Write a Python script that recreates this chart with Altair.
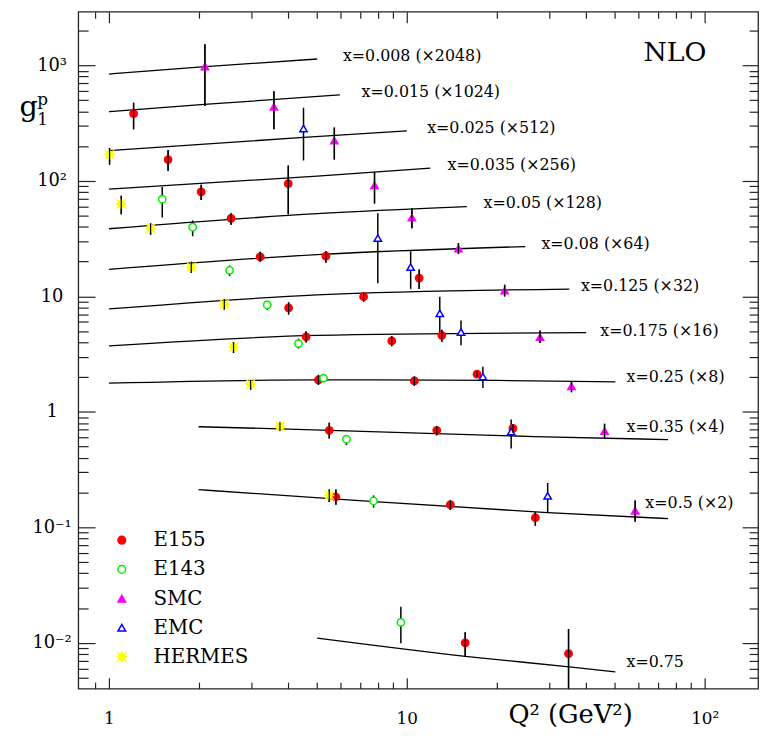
import altair as alt
import pandas as pd

# ---------------- data ----------------
bin_labels = ["x=0.008 (×2048)", "x=0.015 (×1024)", "x=0.025 (×512)", "x=0.035 (×256)",
              "x=0.05 (×128)", "x=0.08 (×64)", "x=0.125 (×32)", "x=0.175 (×16)",
              "x=0.25 (×8)", "x=0.35 (×4)", "x=0.5 (×2)", "x=0.75"]

curve_q = [[1, 2.0, 5.0],
           [1, 2.09, 5.96],
           [1, 4.5, 10.0],
           [1, 5.0, 12.0],
           [1, 5.0, 15.9],
           [1, 5.0, 25.0],
           [1, 5.0, 35.1],
           [1, 5.0, 40.0],
           [1, 5.0, 20.0, 50.1],
           [2.0, 4.28, 26.8, 75.3],
           [2.0, 5.52, 29.7, 75.3],
           [5.0, 15.7, 35.1, 50.1]]
curve_g = [[841, 968, 1136],
           [397, 459, 555],
           [183, 238, 271],
           [84.7, 110, 129],
           [38.5, 52.0, 59.8],
           [17.1, 23.0, 27.0],
           [7.78, 10.3, 11.55],
           [3.72, 4.59, 4.85],
           [1.77, 1.89, 1.87, 1.82],
           [0.743, 0.705, 0.611, 0.575],
           [0.212, 0.177, 0.134, 0.119],
           [0.01097, 0.00764, 0.00619, 0.00561]]

label_q = [6.1, 7.05, 11.7, 13.7, 18.1, 28.3, 38.4, 44.6, 54.6, 54.6, 63.2, 54.6]
label_g = [1216, 586, 284, 136, 63.8, 28.6, 12.3, 4.97, 2.02, 0.738, 0.161, 0.00684]

experiments = ["E155", "E143", "SMC", "EMC", "HERMES"]

e155_q = [1.21, 1.58, 2.04, 4.0, 2.57, 3.22, 5.35, 11.0, 4.01, 7.16, 4.59, 8.90, 13.1,
          5.05, 10.6, 17.2, 5.49, 12.6, 22.7, 5.78, 14.0, 27.0, 15.7, 34.9]
e155_g = [382, 153, 80.4, 94.7, 47.4, 22.0, 22.3, 14.4, 7.94, 9.93, 4.45, 4.11, 4.60,
          1.89, 1.85, 2.12, 0.692, 0.692, 0.719, 0.183, 0.157, 0.121, 0.0100, 0.00805]
e155_lo = [280, 122, 68.2, 51.3, 41.7, 19.9, 19.5, 11.6, 6.96, 8.99, 3.98, 3.70, 4.03,
           1.71, 1.68, 2.00, 0.587, 0.626, 0.66, 0.157, 0.141, 0.103, 0.00764, 0.0035]
e155_hi = [474, 185, 92.7, 136, 52.4, 24.3, 24.6, 17.1, 8.87, 10.8, 4.97, 4.51, 5.14,
           2.09, 2.02, 2.25, 0.805, 0.748, 0.78, 0.213, 0.171, 0.136, 0.01236, 0.01318]

e143_q = [1.51, 1.91, 2.54, 3.40, 4.33, 5.25, 6.27, 7.73, 9.55]
e143_g = [69.5, 39.7, 16.8, 8.42, 3.90, 1.96, 0.579, 0.169, 0.01504]
e143_lo = [48.1, 33.1, 15.0, 7.63, 3.53, 1.86, 0.515, 0.148, 0.00993]
e143_hi = [88.7, 45.3, 18.5, 9.17, 4.31, 2.06, 0.626, 0.189, 0.0205]

smc_q = [2.10, 3.58, 5.71, 7.79, 10.4, 14.9, 21.3, 28.0, 35.7, 46.1, 58.4]
smc_g = [979, 438, 223, 91.7, 48.1, 25.9, 11.2, 4.44, 1.66, 0.682, 0.139]
smc_lo = [444, 280, 153, 63.8, 38.9, 23.3, 9.98, 3.95, 1.48, 0.587, 0.112]
smc_hi = [1528, 598, 290, 119, 57.8, 29.0, 12.6, 5.07, 1.83, 0.789, 0.171]

emc_q = [4.50, 7.99, 10.3, 12.9, 15.2, 18.0, 22.4, 29.7]
emc_g = [284, 32.0, 17.9, 7.14, 4.91, 2.02, 0.674, 0.187]
emc_lo = [150, 13.0, 11.6, 4.81, 3.77, 1.61, 0.482, 0.134]
emc_hi = [430, 52.4, 24.6, 9.93, 6.18, 2.46, 0.859, 0.242]

hermes_q = [1.005, 1.10, 1.38, 1.89, 2.44, 2.62, 2.99, 3.75, 5.49]
hermes_g = [169, 63.0, 38.9, 17.9, 8.59, 3.65, 1.74, 0.753, 0.189]
hermes_lo = [138, 51.3, 34.2, 16.0, 7.68, 3.24, 1.55, 0.682, 0.166]
hermes_hi = [193, 74.3, 43.0, 19.9, 9.48, 4.03, 1.89, 0.814, 0.213]

x_tick_values = [1, 10, 100]
x_tick_labels = ["1", "10", "10²"]
x_minor_values = [0.9, 2, 3, 4, 5, 6, 7, 8, 9, 20, 30, 40, 50, 60, 70, 80, 90]
y_tick_values = [0.01, 0.1, 1, 10, 100, 1000]
y_tick_labels = ["10⁻²", "10⁻¹", "1", "10", "10²", "10³"]
y_minor_values = [m * d for d in [0.001, 0.01, 0.1, 1, 10, 100, 1000]
                  for m in [2, 3, 4, 5, 6, 7, 8, 9]]

# ---------------- tables ----------------
curve_rows = []
for lab, qs, gs in zip(bin_labels, curve_q, curve_g):
    for q, g in zip(qs, gs):
        curve_rows.append({"bin": lab, "q": q, "g": g})
curves_df = pd.DataFrame(curve_rows)

labels_df = pd.DataFrame({"label": bin_labels, "q": label_q, "g": label_g})

pt_rows = []
for name, qs, gs, los, his in [("E155", e155_q, e155_g, e155_lo, e155_hi),
                               ("E143", e143_q, e143_g, e143_lo, e143_hi),
                               ("SMC", smc_q, smc_g, smc_lo, smc_hi),
                               ("EMC", emc_q, emc_g, emc_lo, emc_hi),
                               ("HERMES", hermes_q, hermes_g, hermes_lo, hermes_hi)]:
    for q, g, lo, hi in zip(qs, gs, los, his):
        pt_rows.append({"exp": name, "q": q, "g": g, "lo": lo, "hi": hi})
points_df = pd.DataFrame(pt_rows)

# ---------------- styling ----------------
FONT = "DejaVu Serif"
x_scale = alt.Scale(type="log", domain=[0.789, 151], nice=False)
y_scale = alt.Scale(type="log", domain=[0.00401, 2913], nice=False)

def expr_labels(values, labels):
    v = "[" + ",".join(repr(x) for x in values) + "]"
    l = "[" + ",".join("'" + s + "'" for s in labels) + "]"
    return f"{l}[indexof({v}, datum.value)]"

tick_color = "#222"
ax_bottom_major = alt.Axis(orient="bottom", values=x_tick_values, tickSize=11, offset=-11,
                           domain=False, grid=False, tickColor=tick_color, tickWidth=1.2,
                           labelExpr=expr_labels(x_tick_values, x_tick_labels),
                           labelFont=FONT, labelFontSize=17, labelColor="black",
                           labelBaseline="alphabetic", labelPadding=35, labelFlush=False,
                           title="Q² (GeV²)", titleFont=FONT, titleFontSize=26,
                           titleFontWeight="normal", titleColor="black",
                           titleX=497, titleY=45, titleAlign="center",
                           titleBaseline="alphabetic", titleAnchor="start")
ax_bottom_minor = alt.Axis(orient="bottom", values=x_minor_values, tickSize=6.5, offset=-6.5,
                           domain=False, grid=False, labels=False, title=None,
                           tickColor=tick_color, tickWidth=1.2)
ax_top_major = alt.Axis(orient="top", values=x_tick_values, tickSize=11, offset=-11,
                        domain=False, grid=False, labels=False, title=None,
                        tickColor=tick_color, tickWidth=1.2)
ax_top_minor = alt.Axis(orient="top", values=x_minor_values, tickSize=6.5, offset=-6.5,
                        domain=False, grid=False, labels=False, title=None,
                        tickColor=tick_color, tickWidth=1.2)

ax_left_major = alt.Axis(orient="left", values=y_tick_values, tickSize=17, offset=-17,
                         domain=False, grid=False, tickColor=tick_color, tickWidth=1.2,
                         labelExpr=expr_labels(y_tick_values, y_tick_labels),
                         labelFont=FONT, labelFontSize=18, labelColor="black",
                         labelAlign="center", labelBaseline="middle", labelPadding=27,
                         labelFlush=False, title=None)
ax_left_minor = alt.Axis(orient="left", values=y_minor_values, tickSize=10, offset=-10,
                         domain=False, grid=False, labels=False, title=None,
                         tickColor=tick_color, tickWidth=1.2)
ax_right_major = alt.Axis(orient="right", values=y_tick_values, tickSize=16, offset=-16,
                          domain=False, grid=False, labels=False, title=None,
                          tickColor=tick_color, tickWidth=1.2)
ax_right_minor = alt.Axis(orient="right", values=y_minor_values, tickSize=9, offset=-9,
                          domain=False, grid=False, labels=False, title=None,
                          tickColor=tick_color, tickWidth=1.2)

star = ("M1.3,0L0.5,0.2L0.92,0.92L0.2,0.5L0,1.3L-0.2,0.5L-0.92,0.92L-0.5,0.2"
        "L-1.3,0L-0.5,-0.2L-0.92,-0.92L-0.2,-0.5L0,-1.3L0.2,-0.5L0.92,-0.92L0.5,-0.2Z")
shape_range = ["circle", "circle", "triangle-up", "triangle-up", star]
fill_range = ["#ff0000", "white", "#ff00ff", "white", "#ffff00"]
stroke_range = ["#ff0000", "#00ee00", "#ff00ff", "#0000ff", "#ffff00"]

legend = alt.Legend(orient="none", legendX=34, legendY=524, title=None,
                    labelFont=FONT, labelFontSize=20, labelColor="black",
                    symbolSize=60, symbolStrokeWidth=1.5, rowPadding=9.5,
                    labelOffset=22, padding=0)

# ---------------- layers ----------------
curves = alt.Chart(curves_df).mark_line(color="black", strokeWidth=1.3, clip=True,
                                        interpolate="monotone").encode(
    x=alt.X("q:Q", scale=x_scale, axis=ax_bottom_major),
    y=alt.Y("g:Q", scale=y_scale, axis=ax_left_major),
    detail="bin:N",
)

errs = alt.Chart(points_df).mark_rule(color="black", strokeWidth=1.5, clip=True).encode(
    x=alt.X("q:Q", scale=x_scale, axis=ax_bottom_minor),
    y=alt.Y("lo:Q", scale=y_scale, axis=ax_left_minor),
    y2="hi:Q",
)

pts = alt.Chart(points_df).mark_point(size=55, strokeWidth=1.5, opacity=1, fillOpacity=1).encode(
    x=alt.X("q:Q", scale=x_scale, axis=ax_top_major),
    y=alt.Y("g:Q", scale=y_scale, axis=ax_right_major),
    shape=alt.Shape("exp:N", scale=alt.Scale(domain=experiments, range=shape_range), legend=legend),
    fill=alt.Fill("exp:N", scale=alt.Scale(domain=experiments, range=fill_range), legend=legend),
    stroke=alt.Stroke("exp:N", scale=alt.Scale(domain=experiments, range=stroke_range), legend=legend),
)

errs_top = alt.Chart(points_df).transform_filter(
    alt.FieldOneOfPredicate(field="exp", oneOf=["E155", "SMC", "HERMES"])
).mark_rule(color="black", strokeWidth=1.2, clip=True).encode(
    x=alt.X("q:Q", scale=x_scale, axis=None),
    y=alt.Y("lo:Q", scale=y_scale, axis=None),
    y2="hi:Q",
)

texts = alt.Chart(labels_df).mark_text(align="left", baseline="middle", font=FONT,
                                       fontSize=16, color="black").encode(
    x=alt.X("q:Q", scale=x_scale, axis=ax_top_minor),
    y=alt.Y("g:Q", scale=y_scale, axis=ax_right_minor),
    text="label:N",
)

nlo = alt.Chart(pd.DataFrame({"t": ["NLO"]})).mark_text(
    font=FONT, fontSize=27, color="black", align="center", baseline="middle"
).encode(x=alt.value(603), y=alt.value(42), text="t:N")

g_main = alt.Chart(pd.DataFrame({"t": ["g"]})).mark_text(
    font=FONT, fontSize=29, color="black", align="center", baseline="alphabetic"
).encode(x=alt.value(-50), y=alt.value(105), text="t:N")
g_sup = alt.Chart(pd.DataFrame({"t": ["p"]})).mark_text(
    font=FONT, fontSize=17, color="black", align="center", baseline="alphabetic"
).encode(x=alt.value(-36), y=alt.value(94), text="t:N")
g_sub = alt.Chart(pd.DataFrame({"t": ["1"]})).mark_text(
    font=FONT, fontSize=17, color="black", align="center", baseline="alphabetic"
).encode(x=alt.value(-36), y=alt.value(114), text="t:N")

chart = alt.layer(curves, errs, pts, errs_top, texts, nlo, g_main, g_sup, g_sub).resolve_axis(
    x="independent", y="independent"
).properties(
    width=687, height=684, autosize="none",
    padding={"left": 71, "top": 0, "right": 6, "bottom": 38},
    background="white",
).configure(font=FONT).configure_legend(
    labelFont=FONT
).configure_view(stroke="#222", strokeWidth=1.3)

chart.save("out.html", embed_options={"renderer": "svg", "actions": False})
